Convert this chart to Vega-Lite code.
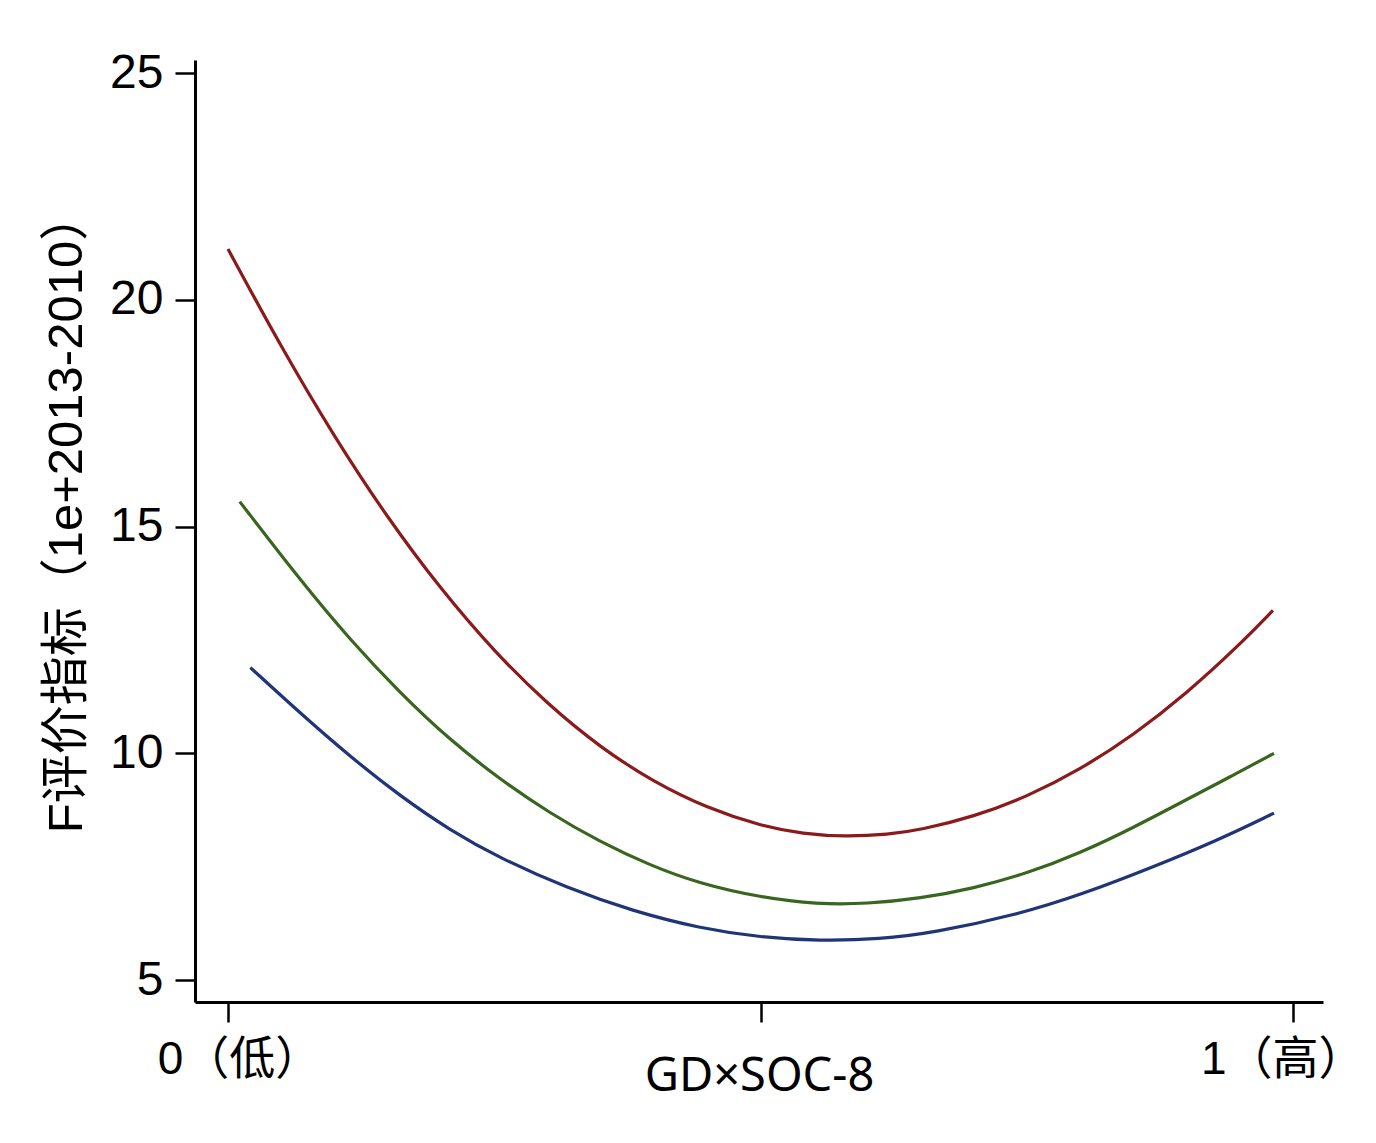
{
  "$schema": "https://vega.github.io/schema/vega-lite/v6.json",
  "width": 1128,
  "height": 942,
  "autosize": {"type": "none"},
  "padding": {"left": 195, "top": 60, "right": 53, "bottom": 141},
  "background": "white",
  "config": {"view": {"stroke": null}},
  "data": {"values": [
    {"s": "red", "x": 0.000, "y": 21.12},
    {"s": "red", "x": 0.050, "y": 18.95},
    {"s": "red", "x": 0.100, "y": 16.97},
    {"s": "red", "x": 0.150, "y": 15.18},
    {"s": "red", "x": 0.200, "y": 13.61},
    {"s": "red", "x": 0.250, "y": 12.24},
    {"s": "red", "x": 0.300, "y": 11.08},
    {"s": "red", "x": 0.350, "y": 10.12},
    {"s": "red", "x": 0.400, "y": 9.36},
    {"s": "red", "x": 0.450, "y": 8.79},
    {"s": "red", "x": 0.500, "y": 8.40},
    {"s": "red", "x": 0.540, "y": 8.22},
    {"s": "red", "x": 0.580, "y": 8.16},
    {"s": "red", "x": 0.620, "y": 8.21},
    {"s": "red", "x": 0.650, "y": 8.31},
    {"s": "red", "x": 0.700, "y": 8.60},
    {"s": "red", "x": 0.750, "y": 9.04},
    {"s": "red", "x": 0.800, "y": 9.64},
    {"s": "red", "x": 0.850, "y": 10.40},
    {"s": "red", "x": 0.900, "y": 11.32},
    {"s": "red", "x": 0.950, "y": 12.40},
    {"s": "red", "x": 0.981, "y": 13.15},
    {"s": "green", "x": 0.011, "y": 15.55},
    {"s": "green", "x": 0.068, "y": 13.81},
    {"s": "green", "x": 0.115, "y": 12.49},
    {"s": "green", "x": 0.162, "y": 11.32},
    {"s": "green", "x": 0.208, "y": 10.30},
    {"s": "green", "x": 0.255, "y": 9.43},
    {"s": "green", "x": 0.302, "y": 8.68},
    {"s": "green", "x": 0.349, "y": 8.05},
    {"s": "green", "x": 0.396, "y": 7.53},
    {"s": "green", "x": 0.442, "y": 7.13},
    {"s": "green", "x": 0.500, "y": 6.82},
    {"s": "green", "x": 0.553, "y": 6.67},
    {"s": "green", "x": 0.600, "y": 6.68},
    {"s": "green", "x": 0.650, "y": 6.80},
    {"s": "green", "x": 0.700, "y": 7.02},
    {"s": "green", "x": 0.750, "y": 7.35},
    {"s": "green", "x": 0.800, "y": 7.80},
    {"s": "green", "x": 0.850, "y": 8.36},
    {"s": "green", "x": 0.900, "y": 8.98},
    {"s": "green", "x": 0.940, "y": 9.47},
    {"s": "green", "x": 0.982, "y": 10.00},
    {"s": "blue", "x": 0.021, "y": 11.89},
    {"s": "blue", "x": 0.068, "y": 10.88},
    {"s": "blue", "x": 0.115, "y": 9.92},
    {"s": "blue", "x": 0.162, "y": 9.05},
    {"s": "blue", "x": 0.208, "y": 8.31},
    {"s": "blue", "x": 0.255, "y": 7.69},
    {"s": "blue", "x": 0.318, "y": 7.03},
    {"s": "blue", "x": 0.380, "y": 6.52},
    {"s": "blue", "x": 0.443, "y": 6.14},
    {"s": "blue", "x": 0.500, "y": 5.94},
    {"s": "blue", "x": 0.556, "y": 5.86},
    {"s": "blue", "x": 0.612, "y": 5.90},
    {"s": "blue", "x": 0.662, "y": 6.04},
    {"s": "blue", "x": 0.741, "y": 6.44},
    {"s": "blue", "x": 0.803, "y": 6.90},
    {"s": "blue", "x": 0.866, "y": 7.47},
    {"s": "blue", "x": 0.929, "y": 8.08},
    {"s": "blue", "x": 0.982, "y": 8.68}
  ]},
  "mark": {"type": "line", "interpolate": "basis", "strokeWidth": 3.2},
  "encoding": {
    "x": {
      "field": "x", "type": "quantitative",
      "scale": {"domain": [-0.031, 1.028], "nice": false, "zero": false},
      "axis": {
        "values": [0, 0.5, 1],
        "labelExpr": "datum.value == 0 ? '0（低）' : datum.value == 1 ? '1（高）' : ''",
        "grid": false,
        "domainColor": "black", "domainWidth": 3,
        "tickColor": "black", "tickWidth": 2.5, "tickSize": 20,
        "labelFont": "Liberation Sans, Noto Sans CJK SC",
        "labelFontSize": 46, "labelColor": "black", "labelPadding": 15,
        "labelOffset": {"condition": {"test": "datum.value == 1", "value": -11}, "value": 11},
        "labelFlush": false, "labelOverlap": false,
        "title": "GD×SOC-8",
        "titleFont": "Noto Sans", "titleFontSize": 47, "titleFontWeight": "normal",
        "titleColor": "black",
        "titleBaseline": "alphabetic", "titleY": 88
      }
    },
    "y": {
      "field": "y", "type": "quantitative",
      "scale": {"domain": [4.515, 25.29], "nice": false, "zero": false},
      "axis": {
        "values": [5, 10, 15, 20, 25],
        "grid": false,
        "domainColor": "black", "domainWidth": 3,
        "tickColor": "black", "tickWidth": 2.5, "tickSize": 20,
        "labelFont": "Liberation Sans", "labelFontSize": 48, "labelColor": "black",
        "labelPadding": 12, "labelFlush": false, "labelOverlap": false,
        "title": "F评价指标（1e+2013-2010）",
        "titleFont": "Liberation Sans, Noto Sans CJK SC", "titleFontSize": 49,
        "titleFontWeight": "normal", "titleColor": "black", "titlePadding": 18,
        "titleY": 452
      }
    },
    "color": {
      "field": "s", "type": "nominal",
      "scale": {"domain": ["red", "green", "blue"], "range": ["#8B1A1A", "#38661F", "#1F3577"]},
      "legend": null
    }
  }
}
